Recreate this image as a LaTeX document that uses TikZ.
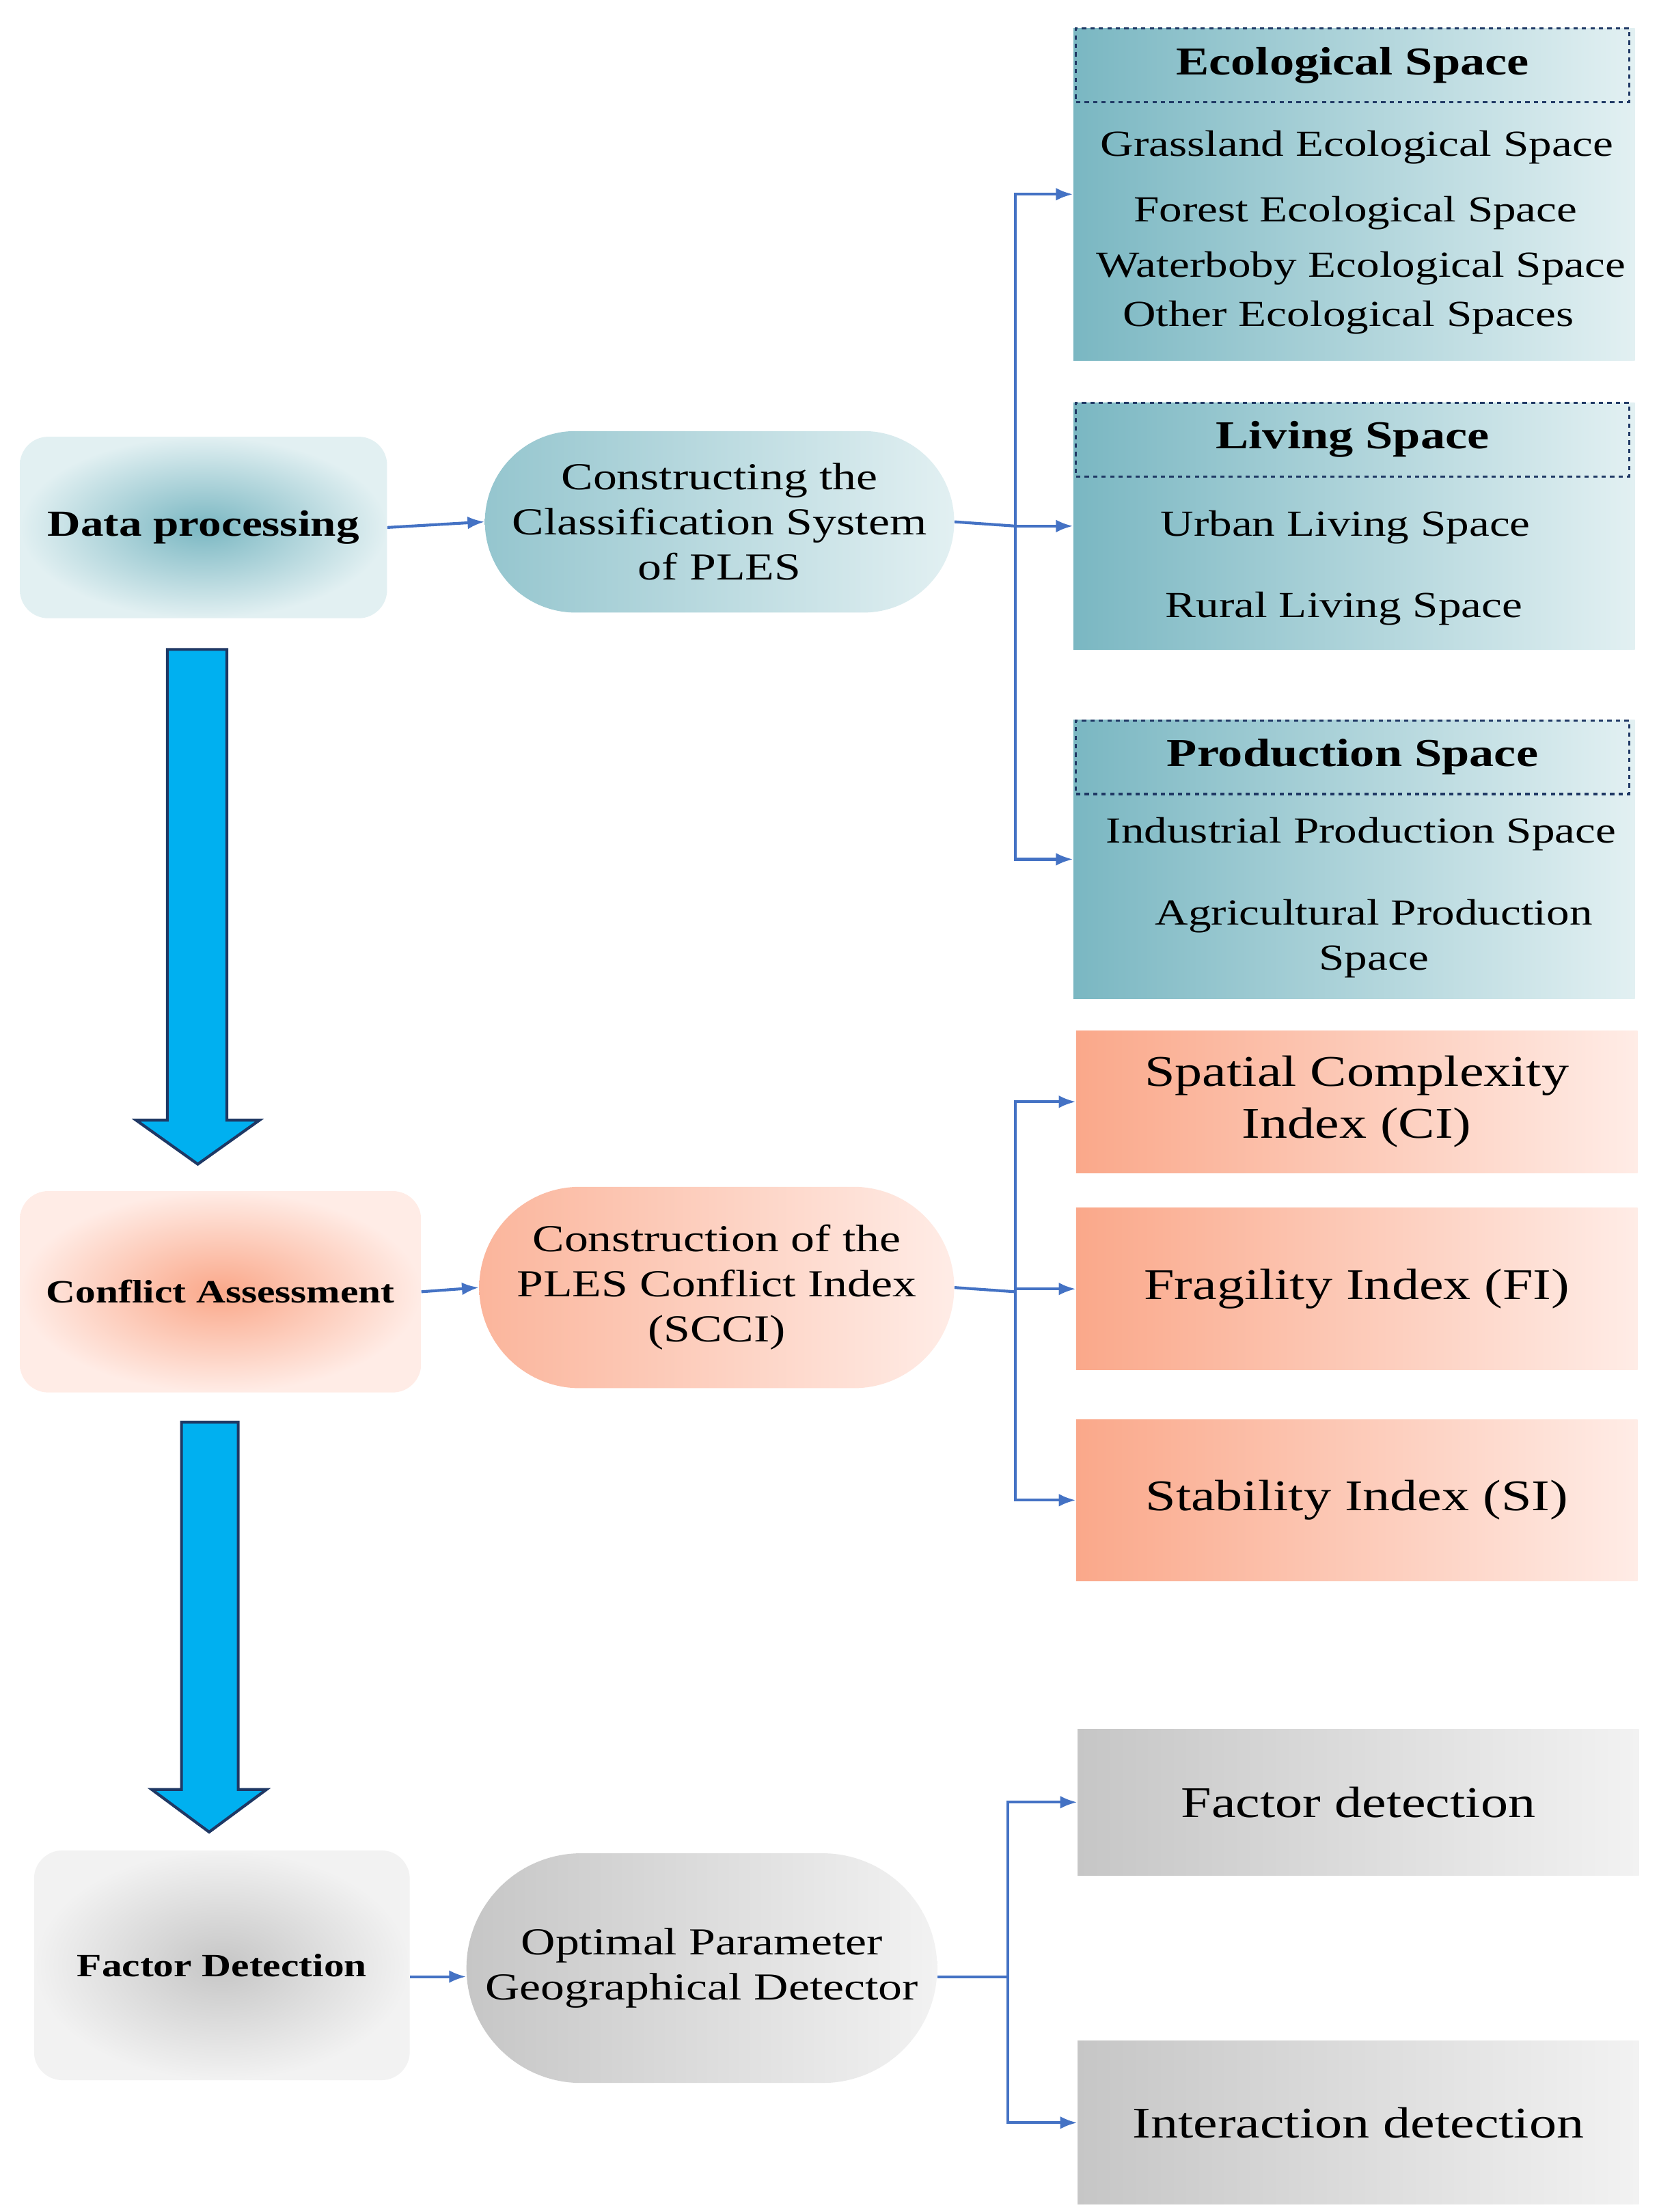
\documentclass[tikz,border=0pt]{standalone}
\usepackage{fontspec}
\setmainfont{Liberation Serif}[FakeStretch=1.25]
\usetikzlibrary{arrows.meta,shapes.misc}
\definecolor{tealL}{RGB}{122,183,194}
\definecolor{tealR}{RGB}{226,240,242}
\definecolor{pinkL}{RGB}{250,168,138}
\definecolor{pinkR}{RGB}{255,236,230}
\definecolor{grayL}{RGB}{198,198,198}
\definecolor{grayR}{RGB}{242,242,242}
\definecolor{conn}{RGB}{68,114,196}
\definecolor{bigblue}{RGB}{0,176,240}
\definecolor{hdr}{RGB}{31,56,100}
\begin{document}
\begin{tikzpicture}[x=1bp,y=-1bp,
  txt/.style={font=\fontsize{26}{32}\selectfont,align=center,inner sep=0},
  btxt/.style={font=\fontsize{31}{37}\selectfont,align=center,inner sep=0},
  blk/.style={draw=none,minimum width=396bp,inner sep=0},
  tealblk/.style={blk,left color=tealL,right color=tealR},
  pinkblk/.style={blk,left color=pinkL,right color=pinkR},
  grayblk/.style={blk,left color=grayL,right color=grayR},
  hd/.style={draw=hdr,dashed,line width=1.5bp,minimum width=390bp,minimum height=52bp,font=\fontsize{28}{34}\selectfont\bfseries},
  lbox/.style={rounded corners=20bp,draw=none,align=center},
  stad/.style={rounded rectangle,draw=none,align=center,font=\fontsize{27}{32}\selectfont,inner sep=0},
  con/.style={draw=conn,line width=2bp},
  arr/.style={con,-{Latex[length=12bp,width=9bp]}},
  big/.style={fill=bigblue,draw=hdr,line width=2bp,line join=miter}]
\useasboundingbox (0,0) rectangle (1170,1560);
\fill[white] (0,0) rectangle (1170,1560);

% --- row 1 ---
\node[lbox,inner color=tealL,outer color=tealR,minimum width=259bp,minimum height=128bp,font=\fontsize{26}{31}\selectfont\bfseries] (dp) at (143.5,372) {Data processing};
\node[stad,left color=tealL!80,right color=tealR,minimum width=331bp,minimum height=128bp] (cls) at (507.5,368) {Constructing the\\Classification System\\of PLES};
\node[tealblk,minimum height=234bp] (eco) at (955,137) {};
\node[hd] (ecoh) at (954,46) {Ecological Space};
\node[txt] (e1) at (957,104) {Grassland Ecological Space};
\node[txt] (e2) at (956,150) {Forest Ecological Space};
\node[txt] (e3) at (960,189) {Waterboby Ecological Space};
\node[txt] (e4) at (951,224) {Other Ecological Spaces};
\node[tealblk,minimum height=174bp] (liv) at (955,371) {};
\node[hd] (livh) at (954,310) {Living Space};
\node[txt] (l1) at (949,372) {Urban Living Space};
\node[txt] (l2) at (948,429) {Rural Living Space};
\node[tealblk,minimum height=197bp] (pro) at (955,606) {};
\node[hd] (proh) at (954,534) {Production Space};
\node[txt] (p1) at (960,588) {Industrial Production Space};
\node[txt] (p2) at (969,662) {Agricultural Production\\Space};

\draw[arr] (dp.east) -- (cls.west);
\coordinate (j1) at (716,371);
\draw[con] (cls.east) -- (j1);
\draw[arr] (j1) |- (eco.west);
\draw[arr] (j1) -- (liv.west);
\draw[arr] (j1) |- (pro.west);

\draw[big] (118,458) -- (160,458) -- (160,790) -- (183,790) -- (139.5,821) -- (96,790) -- (118,790) -- cycle;

% --- row 2 ---
\node[lbox,inner color=pinkL,outer color=pinkR,minimum width=283bp,minimum height=142bp,font=\fontsize{23}{27}\selectfont\bfseries] (ca) at (155.5,911) {Conflict Assessment};
\node[stad,left color=pinkL!85,right color=pinkR,minimum width=335bp,minimum height=142bp] (scci) at (505.5,908) {Construction of the\\PLES Conflict Index\\(SCCI)};
\node[pinkblk,minimum height=100bp,btxt] (ci) at (957,777) {Spatial Complexity\\Index (CI)};
\node[pinkblk,minimum height=114bp,btxt] (fi) at (957,909) {Fragility Index (FI)};
\node[pinkblk,minimum height=114bp,btxt] (si) at (957,1058) {Stability Index (SI)};
\draw[arr] (ca.east) -- (scci.west);
\coordinate (j2) at (716,911);
\draw[con] (scci.east) -- (j2);
\draw[arr] (j2) |- (ci.west);
\draw[arr] (j2) |- (fi.west);
\draw[arr] (j2) |- (si.west);

\draw[big] (128,1003) -- (168,1003) -- (168,1262) -- (188,1262) -- (147.5,1292) -- (107,1262) -- (128,1262) -- cycle;

% --- row 3 ---
\node[lbox,inner color=grayL,outer color=grayR,minimum width=265bp,minimum height=162bp,font=\fontsize{23}{27}\selectfont\bfseries] (fd) at (156.5,1386) {Factor Detection};
\node[stad,left color=grayL,right color=grayR,minimum width=332bp,minimum height=162bp] (opd) at (495,1388) {Optimal Parameter\\Geographical Detector};
\node[grayblk,minimum height=103bp,btxt] (f1) at (958,1271) {Factor detection};
\node[grayblk,minimum height=115bp,btxt] (f2) at (958,1497) {Interaction detection};
\coordinate (j3) at (711,1394);
\draw[arr] (fd.east |- j3) -- (opd.west |- j3);
\draw[con] (opd.east |- j3) -- (j3);
\draw[arr] (j3) |- (f1.west);
\draw[arr] (j3) |- (f2.west);
\end{tikzpicture}
\end{document}
